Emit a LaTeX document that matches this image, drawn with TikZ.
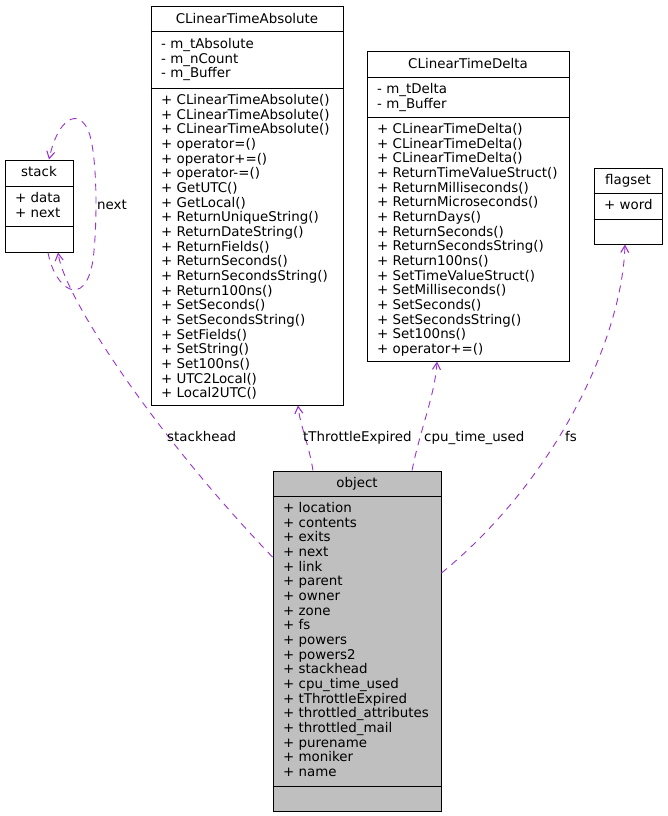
\documentclass[tikz,border=0pt]{standalone}
\usepackage{fontspec}
\setmainfont{DejaVu Sans}
\usetikzlibrary{arrows.meta}
\definecolor{edgepurple}{HTML}{9A32CD}
\definecolor{objgray}{HTML}{BFBFBF}

\begin{document}
\begin{tikzpicture}[x=1pt,y=-1pt,
    every node/.style={font=\fontsize{13.4}{15}\selectfont, inner sep=0pt},
    classbox/.style={draw=black, line width=1pt},
    member/.style={anchor=base west},
    classname/.style={anchor=base},
    usage/.style={draw=edgepurple, line width=0.9pt, dash pattern=on 7pt off 6pt,
      -{Straight Barb[length=7pt,width=8pt,line width=1.1pt]}},
    edgelabel/.style={anchor=base west}]
  \useasboundingbox (0,0) rectangle (668,816);

  % class boxes
  \node[classbox, minimum width=68pt, minimum height=92pt] (stack) at (39,206) {};
  \node[classbox, minimum width=192pt, minimum height=398pt] (abs) at (247,206) {};
  \node[classbox, minimum width=202pt, minimum height=309pt] (delta) at (468,206.5) {};
  \node[classbox, minimum width=68pt, minimum height=76pt] (flagset) at (628,206) {};
  \node[classbox, fill=objgray, minimum width=168pt, minimum height=340pt] (object) at (357,641) {};

  \draw[line width=1pt]
    (stack.west |- 0,186) -- (stack.east |- 0,186)
    (stack.west |- 0,226) -- (stack.east |- 0,226)
    (abs.west |- 0,32) -- (abs.east |- 0,32)
    (abs.west |- 0,88) -- (abs.east |- 0,88)
    (delta.west |- 0,77) -- (delta.east |- 0,77)
    (delta.west |- 0,117) -- (delta.east |- 0,117)
    (flagset.west |- 0,193) -- (flagset.east |- 0,193)
    (flagset.west |- 0,219) -- (flagset.east |- 0,219)
    (object.west |- 0,496) -- (object.east |- 0,496)
    (object.west |- 0,786) -- (object.east |- 0,786);

  % stack
  \node[classname] (stackname) at (39,176.5) {stack};
  \foreach \m [count=\i] in {data, next}
    \node[member] (stackattr\i) at (15,{202.5+(\i-1)*14.67}) {+ \m};

  % CLinearTimeAbsolute
  \node[classname] (absname) at (247,23.5) {CLinearTimeAbsolute};
  \foreach \m [count=\i] in {m\_tAbsolute, m\_nCount, m\_Buffer}
    \node[member] (absattr\i) at (161,{48.5+(\i-1)*14.67}) {- \m};
  \foreach \m [count=\i] in {CLinearTimeAbsolute(), CLinearTimeAbsolute(),
      CLinearTimeAbsolute(), operator=(), operator+=(), operator-=(), GetUTC(),
      GetLocal(), ReturnUniqueString(), ReturnDateString(), ReturnFields(),
      ReturnSeconds(), ReturnSecondsString(), Return100ns(), SetSeconds(),
      SetSecondsString(), SetFields(), SetString(), Set100ns(), UTC2Local(),
      Local2UTC()}
    \node[member] (absop\i) at (161,{104.5+(\i-1)*14.67}) {+ \m};

  % CLinearTimeDelta
  \node[classname] (deltaname) at (468,68.5) {CLinearTimeDelta};
  \foreach \m [count=\i] in {m\_tDelta, m\_Buffer}
    \node[member] (deltaattr\i) at (377,{93.5+(\i-1)*14.67}) {- \m};
  \foreach \m [count=\i] in {CLinearTimeDelta(), CLinearTimeDelta(),
      CLinearTimeDelta(), ReturnTimeValueStruct(), ReturnMilliseconds(),
      ReturnMicroseconds(), ReturnDays(), ReturnSeconds(), ReturnSecondsString(),
      Return100ns(), SetTimeValueStruct(), SetMilliseconds(), SetSeconds(),
      SetSecondsString(), Set100ns(), operator+=()}
    \node[member] (deltaop\i) at (377,{133.5+(\i-1)*14.67}) {+ \m};

  % flagset
  \node[classname] (flagsetname) at (628,184.5) {flagset};
  \node[member] (flagsetattr1) at (604,209.5) {+ word};

  % object
  \node[classname] (objectname) at (357,487.5) {object};
  \foreach \m [count=\i] in {location, contents, exits, next, link, parent, owner,
      zone, fs, powers, powers2, stackhead, cpu\_time\_used, tThrottleExpired,
      throttled\_attributes, throttled\_mail, purename, moniker, name}
    \node[member] (objattr\i) at (283,{512.5+(\i-1)*14.67}) {+ \m};

  % usage edges
  \draw[usage] (object.west |- 0,557) .. controls (160,440) and (65,300) .. (stack.south -| 58,0);
  \draw[usage] (stack.south -| 48,0) .. controls (55,290) and (85,310) .. (93,260)
    .. controls (98,220) and (97,150) .. (88,130)
    .. controls (78,108) and (58,118) .. (stack.north -| 49,0);
  \draw[usage] (object.north -| 313,0) .. controls (309,445) and (300,425) .. (abs.south -| 298,0);
  \draw[usage] (object.north -| 412,0) .. controls (420,430) and (435,395) .. (delta.south -| 437,0);
  \draw[usage] (object.east |- 0,573) .. controls (555,480) and (622,340) .. (flagset.south -| 625,0);

  \node[edgelabel] (lblnext) at (97,209) {next};
  \node[edgelabel] (lblstackhead) at (167,441) {stackhead};
  \node[edgelabel] (lblthrottle) at (303,441) {tThrottleExpired};
  \node[edgelabel] (lblcpu) at (424,441) {cpu\_time\_used};
  \node[edgelabel] (lblfs) at (565,441) {fs};
\end{tikzpicture}
\end{document}
